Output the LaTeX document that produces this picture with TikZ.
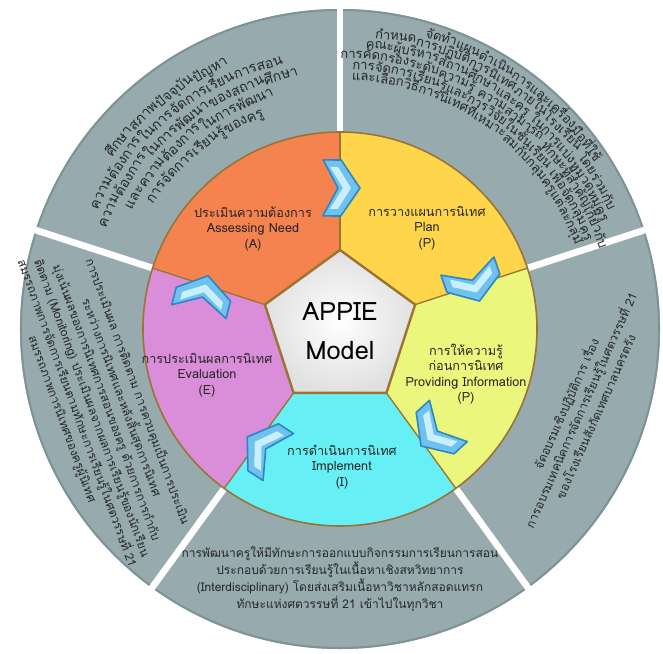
\documentclass[tikz,border=0pt]{standalone}
\usepackage{fontspec}
\newfontfamily\thaifont[Script=Thai]{Loma}
\usetikzlibrary{calc}
\definecolor{ringgrey}{HTML}{97ABAE}
\definecolor{rimgrey}{HTML}{7D9397}
\definecolor{needcol}{HTML}{F5834F}
\definecolor{plancol}{HTML}{FFD64B}
\definecolor{infocol}{HTML}{EBF67C}
\definecolor{implcol}{HTML}{66F0F5}
\definecolor{evalcol}{HTML}{DA8DD8}
\definecolor{edgecol}{HTML}{9A7433}
\definecolor{chevdark}{HTML}{2D86C4}
\definecolor{chevmid}{HTML}{6FC2EE}
\definecolor{chevlight}{HTML}{C9EEFC}
\newcommand\outfont{\thaifont\fontsize{9}{11}\selectfont}
\font\needfont="Loma:script=thai" at 10.5pt
\font\planfont="Loma:script=thai" at 9.8pt
\let\arcfont\needfont
\newdimen\chunkw
% one line of text bent along a circle, centred on an angle
\newcommand\arcline[3]{%
  \gdef\arcsum{0}%
  \foreach \ch in {#3}{\setbox0=\hbox{\arcfont\ch}\global\chunkw=\wd0
    \pgfmathsetmacro\tmp{\arcsum+\the\chunkw}\global\let\arcsum\tmp}%
  \pgfmathsetmacro\tmp{#2+\arcsum/(#1*0.75)*28.6479}\global\let\arcang\tmp
  \foreach \ch in {#3}{\setbox0=\hbox{\arcfont\ch}\global\chunkw=\wd0
    \node [arctext, rotate=\arcang-90, anchor=base west] at (\arcang:#1) {\ch};
    \pgfmathsetmacro\tmp{\arcang-\the\chunkw/(#1*0.75)*57.2958}\global\let\arcang\tmp}}
\tikzset{
  every picture/.style={x=0.75pt, y=0.75pt},
  outtext/.style={font=\outfont, inner sep=0pt, text=black!85},
  arctext/.style={font=\arcfont, inner sep=0pt, text=black!85},
  steplabel/.style={font=\thaifont\fontsize{9.5}{11.6}\selectfont,
    align=center, inner sep=0pt, text=black!85},
  chevron/.pic={
    \filldraw [fill=chevmid, draw=chevdark, line width=1.2, line join=round]
      (-18,28) -- (0,28) -- (19,0) -- (0,-28) -- (-18,-28) -- (-3,0) -- cycle;
    \fill [chevlight] (-11,21) -- (-3,21) -- (10,0) -- (-3,-21) -- (-11,-21) -- (2,0) -- cycle;
  }
}
\begin{document}
\begin{tikzpicture}
  \useasboundingbox (-340,-324) rectangle (323,329);
  % outer grey ring
  \foreach \a in {90,18,-54,-126,162}
    \fill [ringgrey] (0,0) -- (\a:320) arc (\a:\a+72:320) -- cycle;
  \draw [rimgrey, line width=1.5] (0,0) circle (319);
  \foreach \a in {90,18,-54,-126,162}
    \draw [white, line width=5] (\a:190) -- (\a:326);
  % coloured steps
  \foreach \a/\b/\c in {90/162/needcol, 18/90/plancol, -54/18/infocol,
      -126/-54/implcol, 162/234/evalcol}
    \fill [\c] (0,0) -- (\a:197) arc (\a:\b:197) -- cycle;
  \draw [edgecol, line width=1.2] (0,0) circle (197);
  \foreach \a in {90,18,-54,-126,162}
    \draw [edgecol, line width=1] (\a:79) -- (\a:197);
  \shade [inner color=white, outer color=black!12]
    (90:79) -- (18:79) -- (-54:79) -- (-126:79) -- (162:79) -- cycle;
  \draw [edgecol, line width=1.8, line join=round]
    (90:79) -- (18:79) -- (-54:79) -- (-126:79) -- (162:79) -- cycle;
  \node [font=\thaifont\fontsize{19}{29}\selectfont, align=center] (core) at (0,-2)
    {APPIE\\Model};
  % step labels
  \node [steplabel] (need) at (-87,100) {ประเมินความต้องการ\\Assessing Need\\(A)};
  \node [steplabel] (plan) at (87,101) {การวางแผนการนิเทศ\\Plan\\(P)};
  \node [steplabel] (info) at (126,-45)
    {การให้ความรู้\\ก่อนการนิเทศ\\Providing Information\\(P)};
  \node [steplabel] (impl) at (2,-138) {การดำเนินการนิเทศ\\Implement\\(I)};
  \node [steplabel] (eval) at (-133,-46) {การประเมินผลการนิเทศ\\Evaluation\\(E)};
  % arrows between the steps
  \foreach \a in {89.6,19,-47.6,-123,165.7}
    \pic [rotate=\a-90] at (\a:141) {chevron};
  % notes in the grey ring
  \arcline{285}{128}{ศึกษา,สภาพ,ปัจจุบัน,ปัญหา}
  \arcline{270}{128}{ความ,ต้องการ,ใน,การ,จัด,การ,เรียน,การ,สอน}
  \arcline{255}{128}{ความ,ต้องการ,ใน,การ,พัฒนา,ของ,สถาน,ศึกษา}
  \arcline{240}{128}{และ,ความ,ต้องการ,ใน,การ,พัฒนา}
  \arcline{225}{128}{การ,จัด,การ,เรียน,รู้,ของ,ครู}
  \let\arcfont\planfont
  \arcline{304}{53.5}{จัดทำ,แผน,ดำเนิน,การ,และ,เครื่อง,มือ,ที่,ใช้}
  \arcline{293}{53.5}{กำหนด,การ,ปฏิบัติ,การ,นิเทศ,ภายใน,โรงเรียน~,โดย,ร่วม,กับ}
  \arcline{282}{53.5}{คณะ,ผู้,บริหาร,สถาน,ศึกษา,และ,ครู~,ใน,การ,แบ่ง,หมวด,หมู่,ครู}
  \arcline{271}{53.5}{การ,คัด,กรอง,ระดับ,ความ,รู้~,ความ,สามารถ~,ทักษะ,ที่,สำคัญ,เกี่ยว,กับ}
  \arcline{260}{53.5}{การ,จัด,การ,เรียน,รู้,และ,การ,วิจัย,ใน,ชั้น,เรียน~,เพื่อ,จัด,กลุ่ม,ครู}
  \arcline{249}{53.5}{และ,เลือก,วิธี,การ,นิเทศ,ที่,เหมาะ,สม,กับ,กลุ่ม,ครู,แต่,ละ,กลุ่ม}
  \node [outtext, align=center, rotate=66, font=\thaifont\fontsize{9}{12}\selectfont]
    (trainnote) at (-18.6:253)
    {จัดอบรมเชิงปฏิบัติการ เรื่อง\\การอบรมเทคนิคการจัดการเรียนรู้ในศตวรรษที่ 21\\ของโรงเรียนสังกัดเทศบาลนครตรัง};
  \node [outtext, align=center] (devnote) at (0,-250)
    {การพัฒนาครูให้มีทักษะการออกแบบกิจกรรมการเรียนการสอน\\ประกอบด้วยการเรียนรู้ในเนื้อหาเชิงสหวิทยาการ\\(Interdisciplinary) โดยส่งเสริมเนื้อหาวิชาหลักสอดแทรก\\ทักษะแห่งศตวรรษที่ 21 เข้าไปในทุกวิชา};
  \node [outtext, align=center, rotate=-70, font=\thaifont\fontsize{9}{11.8}\selectfont]
    (evalnote) at (197.6:252)
    {การประเมินผล การติดตาม การควบคุมเป็นการประเมิน\\ระหว่างการนิเทศและหลังสิ้นสุดการนิเทศ\\มุ่งเน้นผลของการนิเทศการสอนของครู ด้วยการการกำกับ\\ติดตาม (Monitoring) ประเมินผลจากผลการเรียนรู้ของนักเรียน\\สมรรถภาพการจัดการเรียนตามทักษะการเรียนรู้ในศตวรรษที่ 21\\สมรรถภาพการนิเทศของครูผู้นิเทศ};
\end{tikzpicture}
\end{document}
